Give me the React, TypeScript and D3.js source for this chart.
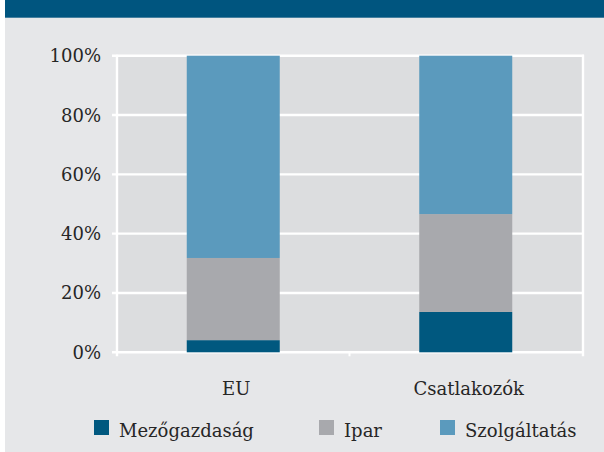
import React, { useRef, useEffect } from 'react';
import * as d3 from 'd3';

const categories = ['EU', 'Csatlakozók'];
const seriesNames = ['Mezőgazdaság', 'Ipar', 'Szolgáltatás'];
const mezogazdasag = [4.1, 13.6];
const ipar = [27.7, 33.0];
const szolgaltatas = [68.2, 53.4];
const yTicks = [0, 20, 40, 60, 80, 100];

const colors = ['#00587f', '#a8a9ad', '#5b9abd'];
const W = 604;
const H = 452;
const FONT = '"DejaVu Serif", serif';

const App = () => {
  const svgRef = useRef<SVGSVGElement>(null);

  useEffect(() => {
    const svg = d3.select(svgRef.current).attr('width', W).attr('height', H).html('');

    const left = 117, right = 582, top = 55.7, bottom = 352.3;

    // backgrounds
    svg.append('rect').attr('x', 5).attr('y', 0).attr('width', W - 5).attr('height', H).attr('fill', '#e6e7e9');
    svg.append('rect').attr('x', 5).attr('y', 0).attr('width', W - 5).attr('height', 17.7).attr('fill', '#00557f');
    svg.append('rect').attr('x', left).attr('y', top).attr('width', right - left).attr('height', bottom - top).attr('fill', '#dcdddf');

    const x = d3.scaleBand().domain(categories).range([left, right]).paddingInner(0.6).paddingOuter(0.3);
    const y = d3.scaleLinear().domain([0, 100]).range([bottom, top]);

    // gridlines
    svg.append('g').selectAll('line').data(yTicks).enter().append('line')
      .attr('x1', left - 5).attr('x2', right + 2)
      .attr('y1', d => y(d)).attr('y2', d => y(d))
      .attr('stroke', '#fff').attr('stroke-width', 2.4);

    // axis lines
    svg.append('line').attr('x1', left).attr('x2', left).attr('y1', top - 1).attr('y2', bottom + 4)
      .attr('stroke', '#fff').attr('stroke-width', 2.4);
    svg.append('line').attr('x1', right + 1).attr('x2', right + 1).attr('y1', top - 1).attr('y2', bottom + 4)
      .attr('stroke', '#fff').attr('stroke-width', 2.4);
    const mid = (left + right) / 2;
    svg.append('line').attr('x1', mid).attr('x2', mid).attr('y1', bottom).attr('y2', bottom + 4)
      .attr('stroke', '#fff').attr('stroke-width', 2);

    // stacked bars
    const rows = categories.map((c, i) => ({
      cat: c,
      'Mezőgazdaság': mezogazdasag[i],
      'Ipar': ipar[i],
      'Szolgáltatás': szolgaltatas[i],
    }));
    const stacked = d3.stack<any>().keys(seriesNames)(rows);
    svg.append('g').selectAll('g').data(stacked).enter().append('g')
      .attr('fill', (_d, i) => colors[i])
      .selectAll('rect').data(d => d).enter().append('rect')
      .attr('x', d => x(d.data.cat)!)
      .attr('width', x.bandwidth())
      .attr('y', d => y(d[1]))
      .attr('height', d => y(d[0]) - y(d[1]));

    // y labels
    svg.append('g').selectAll('text').data(yTicks).enter().append('text')
      .attr('x', 101).attr('y', d => y(d)).attr('dy', '0.36em')
      .attr('text-anchor', 'end')
      .attr('font-family', FONT).attr('font-size', 18).attr('fill', '#262626')
      .text(d => `${d}%`);

    // x labels
    svg.append('g').selectAll('text').data(categories).enter().append('text')
      .attr('x', d => x(d)! + x.bandwidth() / 2 + 3).attr('y', 394.7)
      .attr('text-anchor', 'middle')
      .attr('font-family', FONT).attr('font-size', 18).attr('fill', '#262626')
      .text(d => d);

    // legend
    const legendX = [94, 319, 440];
    const lg = svg.append('g').selectAll('g').data(seriesNames).enter().append('g')
      .attr('transform', (_d, i) => `translate(${legendX[i]},420)`);
    lg.append('rect').attr('width', 15).attr('height', 15).attr('fill', (_d, i) => colors[i]);
    lg.append('text').attr('x', 25).attr('y', 17)
      .attr('font-family', FONT).attr('font-size', 18).attr('fill', '#262626')
      .text(d => d);
  }, []);

  return <svg ref={svgRef} style={{ position: 'absolute', left: 0, top: 0 }} />;
};

export default App;
